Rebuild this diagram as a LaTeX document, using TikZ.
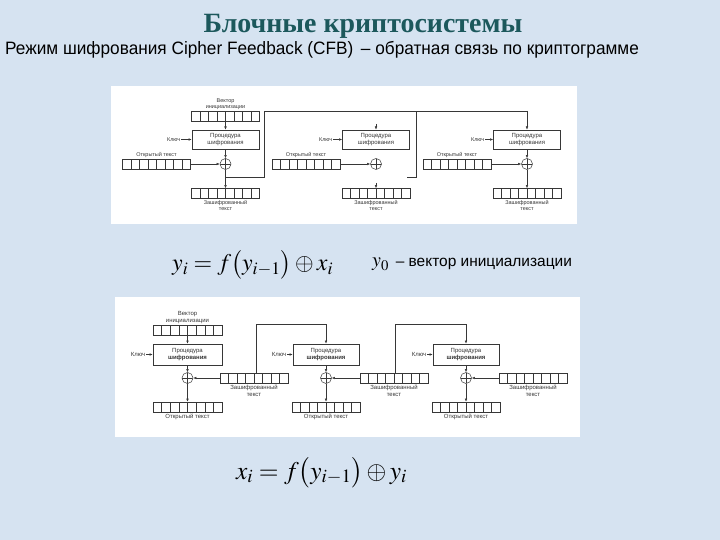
\documentclass[tikz,border=0pt]{standalone}
\usepackage{mathptmx}
\usepackage[no-math]{fontspec}
\setmainfont{Liberation Serif}
\newfontfamily\arialn{Liberation Sans}
\usetikzlibrary{calc,arrows.meta}
\definecolor{bg}{RGB}{214,227,241}
\definecolor{ttl}{RGB}{28,88,92}
\definecolor{ln}{RGB}{55,55,55}
\tikzset{
  lbl/.style={font=\arialn\fontsize{5.5}{6}\selectfont, text=ln, inner sep=0.5pt, align=center},
  blbl/.style={font=\arialn\fontsize{6}{6.8}\selectfont, text=ln, inner sep=0.5pt, align=center},
  regbox/.style={draw=ln, line width=0.5bp, fill=white, minimum width=68bp, minimum height=10bp, inner sep=0,
    path picture={\foreach \k in {1,...,7}{\draw[ln, line width=0.5bp] ($(path picture bounding box.south west)!\k/8!(path picture bounding box.south east)$) -- ($(path picture bounding box.north west)!\k/8!(path picture bounding box.north east)$);}}},
  procbox/.style={draw=ln, line width=0.6bp, fill=white, minimum width=67bp, minimum height=19bp, inner sep=0, font=\arialn\fontsize{6}{6.8}\selectfont, text=ln, align=center},
  xorc/.style={draw=ln, line width=0.5bp, circle, fill=white, minimum size=11bp, inner sep=0,
    path picture={\draw[ln, line width=0.5bp] (path picture bounding box.north) -- (path picture bounding box.south) (path picture bounding box.west) -- (path picture bounding box.east);}},
  con/.style={draw=ln, line width=0.5bp, -{Latex[length=3.2bp,width=2.6bp]}},
  wire/.style={draw=ln, line width=0.5bp},
}
\begin{document}
\begin{tikzpicture}[x=1bp,y=-1bp]
\useasboundingbox (0,0) rectangle (720,540);
\fill[bg] (0,0) rectangle (720,540);

% headings
\node[anchor=base, text=ttl, font=\fontsize{28}{30}\selectfont\bfseries] (title) at (363,33) {Блочные криптосистемы};
\node[anchor=base west, font=\arialn\fontsize{18}{20}\selectfont, inner sep=0] (sub) at (5,55) {\scalebox{0.96}[1]{Режим шифрования Cipher Feedback (CFB) \,– обратная связь по криптограмме}};

% ================= top diagram (encryption) =================
\fill[white] (111,86) rectangle (577,224);

% block 1
\node[regbox] (iv1) at (225.5,116) {};
\node[lbl, anchor=south] (iv1l) at ([yshift=0.3bp]iv1.north) {Вектор\\инициализации};
\node[procbox] (p1) at (225.5,139.5) {Процедура\\шифрования};
\node[lbl, anchor=east] (k1) at (181,139.5) {Ключ};
\node[xorc] (x1) at (225.5,164) {};
\node[regbox] (o1) at (156.5,164) {};
\node[lbl, anchor=south] (o1l) at (o1.north) {Открытый текст};
\node[regbox] (c1) at (225.5,193.5) {};
\node[lbl, anchor=north] (c1l) at ([yshift=-1bp]c1.south) {Зашифрованный\\текст};
\draw[con] (iv1) -- (p1);
\draw[con] (k1) -- (p1);
\draw[con] (p1) -- (x1);
\draw[con] (o1) -- (x1);
\draw[con] (x1) -- (c1);

% block 2
\node[procbox] (p2) at (376,139.5) {Процедура\\шифрования};
\node[lbl, anchor=east] (k2) at (333,139.5) {Ключ};
\node[xorc] (x2) at (376,164) {};
\node[regbox] (o2) at (306,164) {};
\node[lbl, anchor=south] (o2l) at (o2.north) {Открытый текст};
\node[regbox] (c2) at (376,193.5) {};
\node[lbl, anchor=north] (c2l) at ([yshift=-1bp]c2.south) {Зашифрованный\\текст};
\coordinate (s2a) at (376,124);
\coordinate (s2b) at (376,183);
\draw[con] (s2a) -- (p2);
\draw[con] (s2b) -- (c2);
\draw[con] (k2) -- (p2);
\draw[con] (o2) -- (x2);

% block 3
\node[procbox] (p3) at (527,139.5) {Процедура\\шифрования};
\node[lbl, anchor=east] (k3) at (485,139.5) {Ключ};
\node[xorc] (x3) at (527,164) {};
\node[regbox] (o3) at (457,164) {};
\node[lbl, anchor=south] (o3l) at (o3.north) {Открытый текст};
\node[regbox] (c3) at (527,193.5) {};
\node[lbl, anchor=north] (c3l) at ([yshift=-1bp]c3.south) {Зашифрованный\\текст};
\draw[con] (k3) -- (p3);
\draw[con] (p3) -- (x3);
\draw[con] (o3) -- (x3);
\draw[con] (x3) -- (c3);

% feedback lines (top)
\coordinate (fa1) at (225.5,177);
\coordinate (fa2) at (264,177);
\coordinate (fa3) at (264,111);
\coordinate (fb0) at (407,177);
\coordinate (fb1) at (416,177);
\coordinate (fb2) at (416,111);
\coordinate (fb3) at (527,111);
\draw[wire] (fa1) -- (fa2) -- (fa3) -- (fb2);
\draw[wire] (fb0) -- (fb1) -- (fb2) -- (fb3);
\draw[con] (fb3) -- (p3);

% ================= bottom diagram (decryption) =================
\fill[white] (115,297) rectangle (580,437);

% block 1
\node[regbox, minimum width=69bp] (biv) at (187.5,330) {};
\node[blbl, anchor=south] (bivl) at ([yshift=0.5bp]biv.north) {Вектор\\инициализации};
\node[procbox, minimum width=69bp, minimum height=21bp] (bp1) at (187.5,354.5) {Процедура\\\textbf{шифрования}};
\node[blbl, anchor=east] (bk1) at (146,354.5) {Ключ};
\node[xorc] (bx1) at (187.5,378) {};
\node[regbox] (bc1) at (254,378) {};
\node[blbl, anchor=north] (bc1l) at ([yshift=-1bp]bc1.south) {Зашифрованный\\текст};
\node[regbox, minimum width=69bp] (bo1) at (187.5,407) {};
\node[blbl, anchor=north] (bo1l) at ([yshift=-1.5bp]bo1.south) {Открытый текст};
\draw[con] (biv) -- (bp1);
\draw[con] (bk1) -- (bp1);
\draw[con] (bp1) -- (bx1);
\draw[con] (bc1) -- (bx1);
\draw[con] (bx1) -- (bo1);

% block 2
\node[procbox, minimum width=66bp, minimum height=21bp] (bp2) at (326,354.5) {Процедура\\\textbf{шифрования}};
\node[blbl, anchor=east] (bk2) at (287,354.5) {Ключ};
\node[xorc] (bx2) at (326,378) {};
\node[regbox] (bc2) at (394,378) {};
\node[blbl, anchor=north] (bc2l) at ([yshift=-1bp]bc2.south) {Зашифрованный\\текст};
\node[regbox] (bo2) at (326,407) {};
\node[blbl, anchor=north] (bo2l) at ([yshift=-1.5bp]bo2.south) {Открытый текст};
\draw[con] (bk2) -- (bp2);
\draw[con] (bp2) -- (bx2);
\draw[con] (bc2) -- (bx2);
\draw[con] (bx2) -- (bo2);

% block 3
\node[procbox, minimum width=66bp, minimum height=21bp] (bp3) at (466,354.5) {Процедура\\\textbf{шифрования}};
\node[blbl, anchor=east] (bk3) at (427,354.5) {Ключ};
\node[xorc] (bx3) at (466,378) {};
\node[regbox] (bc3) at (533,378) {};
\node[blbl, anchor=north] (bc3l) at ([yshift=-1bp]bc3.south) {Зашифрованный\\текст};
\node[regbox] (bo3) at (466,407) {};
\node[blbl, anchor=north] (bo3l) at ([yshift=-1.5bp]bo3.south) {Открытый текст};
\draw[con] (bk3) -- (bp3);
\draw[con] (bp3) -- (bx3);
\draw[con] (bc3) -- (bx3);
\draw[con] (bx3) -- (bo3);

% feedback lines (bottom)
\coordinate (ga1) at (256,373);
\coordinate (ga2) at (256,324);
\coordinate (ga3) at (326,324);
\draw[wire] (ga1) -- (ga2) -- (ga3);
\draw[con] (ga3) -- (bp2);
\coordinate (gb1) at (395,373);
\coordinate (gb2) at (395,324);
\coordinate (gb3) at (466,324);
\draw[wire] (gb1) -- (gb2) -- (gb3);
\draw[con] (gb3) -- (bp3);

% ================= formulas =================
\node[anchor=base west, inner sep=0, font=\fontsize{24}{28}\selectfont] (form1) at (172,271) {$y_i = f\bigl(y_{i-1}\bigr)\oplus x_i$};
\node[anchor=base west, inner sep=0] (form2) at (372,267) {{\fontsize{20}{24}\selectfont $y_0$}\;\, {\arialn\fontsize{15.5}{17}\selectfont – вектор инициализации}};
\node[anchor=base west, inner sep=0, font=\fontsize{25.5}{30}\selectfont] (form3) at (236,479) {$x_i = f\bigl(y_{i-1}\bigr)\oplus y_i$};
\end{tikzpicture}
\end{document}
